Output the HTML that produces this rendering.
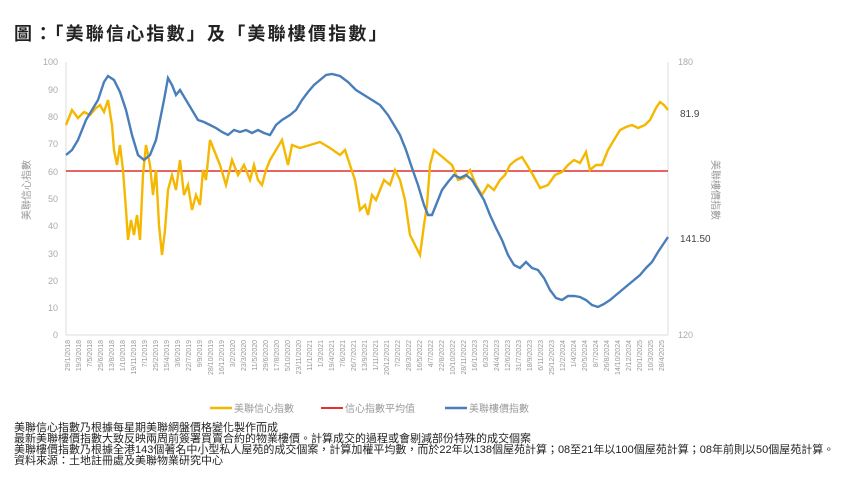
<!DOCTYPE html>
<html><head><meta charset="utf-8"><style>
html,body{margin:0;background:#fff;width:866px;height:478px;overflow:hidden;font-family:"Liberation Sans","Noto Sans CJK TC",sans-serif}
.t{position:absolute;left:14px;top:20px;font-size:18px;font-weight:bold;color:#222;letter-spacing:2.2px}
.n{position:absolute;left:14px;top:423px;font-size:11px;line-height:11px;color:#222;white-space:nowrap}
</style></head><body>
<div class="t">圖：「美聯信心指數」及「美聯樓價指數」</div>
<svg width="866" height="478" style="position:absolute;left:0;top:0" font-family="Liberation Sans, Noto Sans CJK TC, sans-serif">
<g font-size="9" fill="#aaa" text-anchor="end">
<text x="58" y="65">100</text><text x="58" y="93">90</text><text x="58" y="120">80</text><text x="58" y="147">70</text><text x="58" y="175">60</text><text x="58" y="202">50</text><text x="58" y="229">40</text><text x="58" y="257">30</text><text x="58" y="284">20</text><text x="58" y="311">10</text><text x="58" y="338">0</text>
</g>
<g font-size="9" fill="#aaa">
<text x="678" y="65">180</text><text x="678" y="338">120</text>
</g>
<line x1="66" y1="62" x2="66" y2="335" stroke="#ddd"/>
<line x1="66" y1="335" x2="668" y2="335" stroke="#ddd"/>
<line x1="668" y1="62" x2="668" y2="335" stroke="#ddd"/>
<text transform="translate(30,190) rotate(-90)" font-size="10" fill="#999" text-anchor="middle">美聯信心指數</text>
<text transform="translate(712,190) rotate(90)" font-size="10" fill="#999" text-anchor="middle">美聯樓價指數</text>
<line x1="66" y1="171" x2="668" y2="171" stroke="#e03030" stroke-width="1.5"/>
<polyline fill="none" stroke="#f5b800" stroke-width="2.4" points="66,125 72,110 78,118 84,112 90,115 96,108 100,105 104,112 108,100 112,125 114,150 117,165 120,145 123,170 126,210 128,240 131,220 134,235 137,215 140,240 143,175 146,145 150,165 153,195 156,170 159,225 162,255 165,230 168,190 172,175 176,190 180,160 184,195 188,185 192,210 196,195 200,205 203,170 206,180 210,140 214,150 220,165 226,185 232,160 238,175 244,165 250,180 254,165 258,180 262,185 266,170 270,160 276,150 282,140 288,165 292,145 300,148 310,145 320,142 330,148 340,155 345,150 350,165 355,180 360,210 365,205 368,215 372,195 376,200 380,190 384,180 390,185 395,170 400,180 405,200 410,235 415,245 420,255 424,225 427,205 430,165 434,150 440,155 446,160 452,165 458,180 464,178 470,170 476,185 482,195 488,185 494,190 500,180 505,175 510,165 516,160 522,157 527,165 533,175 540,188 548,185 555,175 562,172 568,165 574,160 580,163 586,152 590,170 596,165 602,165 608,150 614,140 620,130 626,127 632,125 638,128 645,125 650,120 656,108 660,102 664,105 668,110"/>
<polyline fill="none" stroke="#4a7ebb" stroke-width="2.4" points="66,155 72,150 78,140 86,120 92,110 98,100 104,82 108,76 114,80 120,92 126,110 132,135 138,155 144,160 150,155 156,140 160,120 164,100 168,78 172,85 176,95 180,90 186,100 192,110 198,120 204,122 210,125 216,128 222,132 228,135 234,130 240,132 246,130 252,133 258,130 264,133 270,135 276,125 282,120 290,115 296,110 302,100 308,92 314,85 320,80 326,75 332,74 340,76 348,82 356,90 364,95 372,100 380,105 388,115 394,125 400,135 406,150 412,168 418,185 424,205 428,215 432,215 436,205 442,190 448,182 454,175 460,178 466,175 472,180 478,190 484,200 490,215 496,228 502,240 508,255 514,265 520,268 526,262 532,268 538,270 544,278 550,290 556,298 562,300 568,296 574,296 580,297 586,300 592,305 598,307 604,304 610,300 616,295 622,290 628,285 634,280 640,275 646,268 652,262 658,252 664,243 668,237"/>
<text x="680" y="117" font-size="10" fill="#444">81.9</text>
<text x="680" y="242" font-size="10" fill="#444">141.50</text>
<g font-size="7" fill="#999" text-anchor="end">
<text transform="translate(70,340) rotate(-90)">29/1/2018</text>
<text transform="translate(81,340) rotate(-90)">19/3/2018</text>
<text transform="translate(92,340) rotate(-90)">7/5/2018</text>
<text transform="translate(103,340) rotate(-90)">25/6/2018</text>
<text transform="translate(114,340) rotate(-90)">13/8/2018</text>
<text transform="translate(125,340) rotate(-90)">1/10/2018</text>
<text transform="translate(136,340) rotate(-90)">19/11/2018</text>
<text transform="translate(147,340) rotate(-90)">7/1/2019</text>
<text transform="translate(158,340) rotate(-90)">25/2/2019</text>
<text transform="translate(169,340) rotate(-90)">15/4/2019</text>
<text transform="translate(180,340) rotate(-90)">3/6/2019</text>
<text transform="translate(191,340) rotate(-90)">22/7/2019</text>
<text transform="translate(202,340) rotate(-90)">9/9/2019</text>
<text transform="translate(213,340) rotate(-90)">28/10/2019</text>
<text transform="translate(224,340) rotate(-90)">16/12/2019</text>
<text transform="translate(235,340) rotate(-90)">3/2/2020</text>
<text transform="translate(246,340) rotate(-90)">23/3/2020</text>
<text transform="translate(257,340) rotate(-90)">11/5/2020</text>
<text transform="translate(268,340) rotate(-90)">29/6/2020</text>
<text transform="translate(279,340) rotate(-90)">17/8/2020</text>
<text transform="translate(290,340) rotate(-90)">5/10/2020</text>
<text transform="translate(301,340) rotate(-90)">23/11/2020</text>
<text transform="translate(312,340) rotate(-90)">11/1/2021</text>
<text transform="translate(323,340) rotate(-90)">1/3/2021</text>
<text transform="translate(334,340) rotate(-90)">19/4/2021</text>
<text transform="translate(345,340) rotate(-90)">7/6/2021</text>
<text transform="translate(356,340) rotate(-90)">26/7/2021</text>
<text transform="translate(367,340) rotate(-90)">13/9/2021</text>
<text transform="translate(378,340) rotate(-90)">1/11/2021</text>
<text transform="translate(389,340) rotate(-90)">20/12/2021</text>
<text transform="translate(400,340) rotate(-90)">7/2/2022</text>
<text transform="translate(411,340) rotate(-90)">28/3/2022</text>
<text transform="translate(422,340) rotate(-90)">16/5/2022</text>
<text transform="translate(433,340) rotate(-90)">4/7/2022</text>
<text transform="translate(444,340) rotate(-90)">22/8/2022</text>
<text transform="translate(455,340) rotate(-90)">10/10/2022</text>
<text transform="translate(466,340) rotate(-90)">28/11/2022</text>
<text transform="translate(477,340) rotate(-90)">16/1/2023</text>
<text transform="translate(488,340) rotate(-90)">6/3/2023</text>
<text transform="translate(499,340) rotate(-90)">24/4/2023</text>
<text transform="translate(510,340) rotate(-90)">12/6/2023</text>
<text transform="translate(521,340) rotate(-90)">31/7/2023</text>
<text transform="translate(532,340) rotate(-90)">18/9/2023</text>
<text transform="translate(543,340) rotate(-90)">6/11/2023</text>
<text transform="translate(554,340) rotate(-90)">25/12/2023</text>
<text transform="translate(565,340) rotate(-90)">12/2/2024</text>
<text transform="translate(576,340) rotate(-90)">1/4/2024</text>
<text transform="translate(587,340) rotate(-90)">20/5/2024</text>
<text transform="translate(598,340) rotate(-90)">8/7/2024</text>
<text transform="translate(609,340) rotate(-90)">26/8/2024</text>
<text transform="translate(620,340) rotate(-90)">14/10/2024</text>
<text transform="translate(631,340) rotate(-90)">2/12/2024</text>
<text transform="translate(642,340) rotate(-90)">20/1/2025</text>
<text transform="translate(653,340) rotate(-90)">10/3/2025</text>
<text transform="translate(664,340) rotate(-90)">28/4/2025</text>
</g>
<g font-size="10" fill="#999">
<line x1="210" y1="408" x2="232" y2="408" stroke="#f5b800" stroke-width="2.5"/><text x="234" y="412">美聯信心指數</text>
<line x1="321" y1="408" x2="343" y2="408" stroke="#e03030" stroke-width="2"/><text x="345" y="412">信心指數平均值</text>
<line x1="445" y1="408" x2="467" y2="408" stroke="#4a7ebb" stroke-width="2.5"/><text x="469" y="412">美聯樓價指數</text>
</g>
</svg>
<div class="n">美聯信心指數乃根據每星期美聯網盤價格變化製作而成<br>最新美聯樓價指數大致反映兩周前簽署買賣合約的物業樓價。計算成交的過程或會剔減部份特殊的成交個案<br>美聯樓價指數乃根據全港143個著名中小型私人屋苑的成交個案，計算加權平均數，而於22年以138個屋苑計算；08至21年以100個屋苑計算；08年前則以50個屋苑計算。<br>資料來源：土地註冊處及美聯物業研究中心</div>
</body></html>
